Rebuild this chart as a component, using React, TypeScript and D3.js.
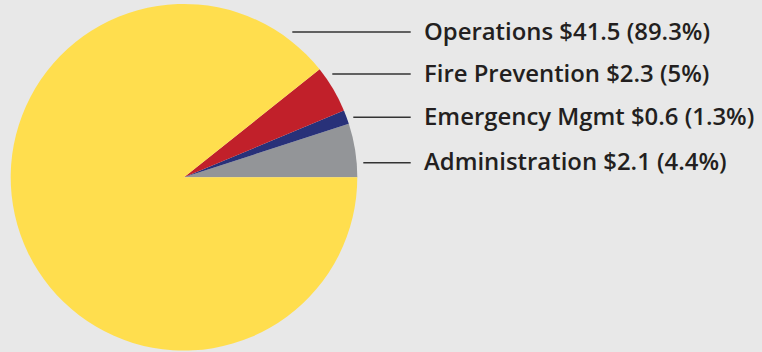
import React from "react";
import * as d3 from "d3";

// Data
const categories = ["Administration", "Emergency Mgmt", "Fire Prevention", "Operations"];
const amounts = ["$2.1", "$0.6", "$2.3", "$41.5"];
const shareLabels = ["4.4%", "1.3%", "5%", "89.3%"];
// slice sizes as drawn in the picture (percent of circle)
const sliceShares = [5.0, 1.3, 4.4, 89.3];
const colors = ["#939598", "#283179", "#C1202A", "#FFDE4E"];

// Layout (label rows, top to bottom: Operations, Fire Prevention, Emergency, Administration)
const W = 762;
const H = 352;
const cx = 184;
const cy = 177.3;
const R = 173.3;
const labelOrder = [3, 2, 1, 0];
const labelY = [32, 74, 117.3, 162.7];
const lineStartX = [292.3, 332.3, 353.3, 363.3];
const lineEndX = 410.7;
const textX = 424;

export default function App() {
  const pie = d3
    .pie<number>()
    .sort(null)
    .value((d) => d)
    .startAngle(Math.PI / 2)
    .endAngle(Math.PI / 2 - 2 * Math.PI);
  const arcs = pie(sliceShares);
  const arc = d3.arc<d3.PieArcDatum<number>>().innerRadius(0).outerRadius(R);

  return (
    <svg
      width={W}
      height={H}
      style={{ position: "absolute", left: 0, top: 0, display: "block" }}
    >
      <rect x={0} y={0} width={W} height={H} fill="#E8E8E8" />
      <g transform={`translate(${cx},${cy})`}>
        {arcs.map((a, i) => (
          <path key={categories[i]} d={arc(a) || ""} fill={colors[i]} />
        ))}
      </g>
      {labelOrder.map((ci, row) => (
        <g key={categories[ci]}>
          <line
            x1={lineStartX[row]}
            x2={lineEndX}
            y1={labelY[row]}
            y2={labelY[row]}
            stroke="#333333"
            strokeWidth={1.6}
          />
          <text
            x={textX}
            y={labelY[row] + 7.5}
            fontFamily="'Open Sans', sans-serif"
            fontWeight={600}
            fontSize={23.9}
            fill="#231F20"
          >
            {`${categories[ci]} ${amounts[ci]} (${shareLabels[ci]})`}
          </text>
        </g>
      ))}
    </svg>
  );
}
